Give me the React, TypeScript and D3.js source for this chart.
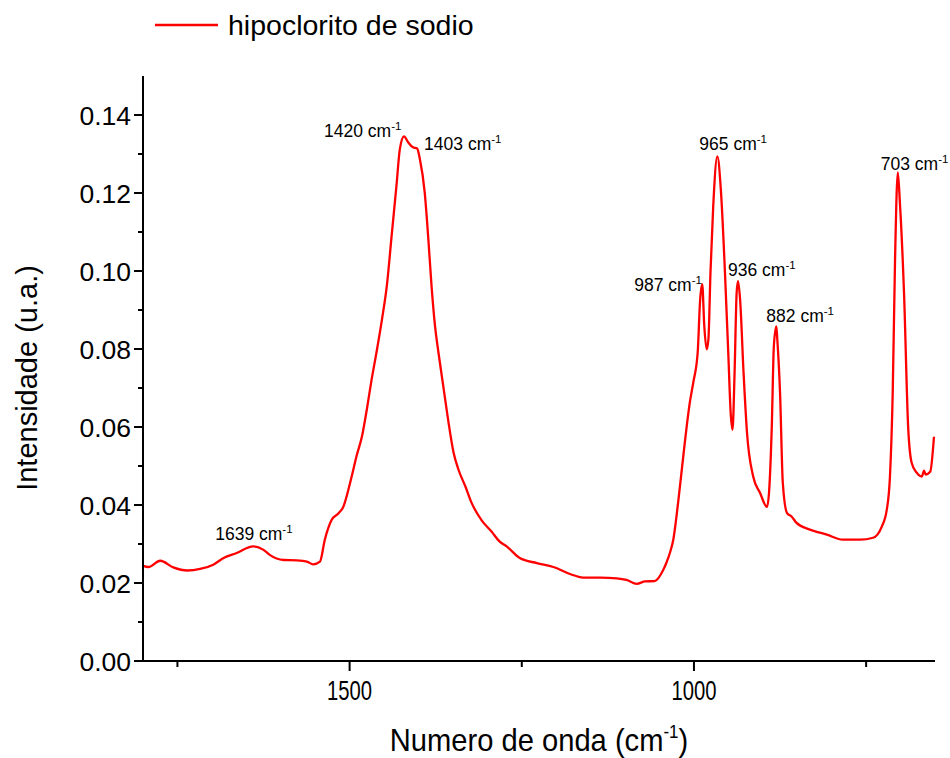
import React from "react";
import * as d3 from "d3";

// Spectrum (wavenumber in cm-1, intensity in u.a.)
const WAVENUMBER = [
  1800, 1792, 1775, 1756, 1736, 1717, 1698, 1683, 1664, 1640, 1625, 1616, 1596, 1577, 1562, 1553, 1543,
  1536, 1526, 1516, 1509, 1507, 1497, 1490, 1482, 1475, 1468, 1461, 1453, 1446, 1439, 1432, 1427, 1421,
  1415, 1408, 1402, 1398, 1391, 1386, 1381, 1376, 1371, 1364, 1357, 1349, 1342, 1332, 1323, 1308, 1294,
  1282, 1272, 1253, 1228, 1204, 1180, 1161, 1136, 1112, 1098, 1083, 1071, 1057, 1044.5, 1040, 1035, 1030,
  1023, 1015.5, 1010.5, 1006, 1001, 994.6, 991, 988, 985, 981.5, 979, 976, 972, 966, 961, 955, 950, 946.7,
  944, 941, 938, 936, 933, 928, 923, 914, 904, 894, 891, 887, 884, 880.4, 879, 875, 871, 865, 858, 851,
  831.5, 807, 783.6, 759, 740, 727.4, 720, 715.4, 711.4, 708, 704, 701, 695, 689, 684, 676.6, 669, 666,
  663.5, 657, 651.5,
];
const INTENSITY = [
  0.0244, 0.0241, 0.0257, 0.024, 0.0232, 0.0236, 0.0247, 0.0264, 0.0277, 0.0294, 0.0285, 0.0272, 0.0259,
  0.0258, 0.0255, 0.0248, 0.0255, 0.0311, 0.0362, 0.0379, 0.0396, 0.0406, 0.0473, 0.0525, 0.0576, 0.0645,
  0.0722, 0.0791, 0.0876, 0.0961, 0.109, 0.1218, 0.1313, 0.1345, 0.133, 0.1317, 0.1314, 0.1287, 0.1202,
  0.109, 0.0961, 0.0859, 0.0791, 0.0705, 0.0619, 0.0534, 0.0491, 0.0448, 0.0406, 0.036, 0.0332, 0.0306,
  0.0294, 0.0264, 0.0251, 0.0241, 0.0223, 0.0214, 0.0214, 0.0212, 0.0208, 0.0198, 0.0204, 0.0205, 0.0234,
  0.0252, 0.0277, 0.0311, 0.0406, 0.0525, 0.0602, 0.0663, 0.0714, 0.0791, 0.0927, 0.0966, 0.0859, 0.0799,
  0.0825, 0.0997, 0.1167, 0.1294, 0.121, 0.0997, 0.0782, 0.0637, 0.0593, 0.074, 0.0945, 0.0974, 0.0927,
  0.074, 0.0586, 0.0473, 0.0431, 0.0395, 0.0432, 0.0601, 0.0807, 0.0858, 0.0825, 0.0688, 0.0457, 0.038,
  0.037, 0.0354, 0.0337, 0.0324, 0.0311, 0.0311, 0.0316, 0.0344, 0.0388, 0.0473, 0.0688, 0.103, 0.1253,
  0.1176, 0.0945, 0.0601, 0.0509, 0.0483, 0.0473, 0.0488, 0.0478, 0.0485, 0.0575,
];

const SERIES_NAME = "hipoclorito de sodio";
const PEAK_LABELS = ["1639", "1420", "1403", "987", "965", "936", "882", "703"];
const PEAK_WN = [1640, 1421, 1402, 988, 966, 936, 880.4, 704];
// label offsets (px) relative to the peak point: start x, baseline y
const PEAK_DX = [-38, -80, 7, -68, -18, -10, -10, -17];
const PEAK_DY = [-6, 1, 1, 7, -6, -5, -4, -2];

const Y_MAJOR = [0, 0.02, 0.04, 0.06, 0.08, 0.1, 0.12, 0.14];
const Y_MINOR = [0.01, 0.03, 0.05, 0.07, 0.09, 0.11, 0.13];
const X_MAJOR = [1500, 1000];
const X_MINOR = [1750, 1250, 750];

const W = 950;
const H = 758;
const M = { left: 143, right: 935, top: 76, bottom: 661 };
const FONT = "'Liberation Sans', Arial, sans-serif";

export default function App() {
  const x = d3.scaleLinear().domain([1800, 650]).range([M.left, M.right]);
  const y = d3.scaleLinear().domain([0, 0.15]).range([M.bottom, M.top]);
  const data = WAVENUMBER.map((w, i) => ({ w, v: INTENSITY[i] }));
  const line = d3
    .line<{ w: number; v: number }>()
    .x((d) => x(d.w))
    .y((d) => y(d.v))
    .curve(d3.curveMonotoneX);

  const nearest = (wn: number) => {
    let best = data[0];
    for (const d of data) if (Math.abs(d.w - wn) < Math.abs(best.w - wn)) best = d;
    return best;
  };

  return (
    <svg
      width={W}
      height={H}
      style={{ position: "absolute", left: 0, top: 0, background: "#fff" }}
      fontFamily={FONT}
    >
      <rect width={W} height={H} fill="#fff" />
      {/* legend */}
      <line x1={155} x2={218} y1={25} y2={25} stroke="#ff0000" strokeWidth={2.5} />
      <text x={228} y={35} fontSize={28.5} fill="#000">
        {SERIES_NAME}
      </text>

      {/* data line */}
      <path d={line(data) || ""} fill="none" stroke="#ff0000" strokeWidth={2.3} strokeLinejoin="round" />

      {/* axes */}
      <line x1={M.left} x2={M.left} y1={M.top} y2={M.bottom + 1} stroke="#000" strokeWidth={2} />
      <line x1={M.left - 1} x2={M.right} y1={M.bottom} y2={M.bottom} stroke="#000" strokeWidth={2} />
      {Y_MAJOR.map((v) => (
        <g key={"ym" + v}>
          <line x1={M.left - 9} x2={M.left} y1={y(v)} y2={y(v)} stroke="#000" strokeWidth={2} />
          <text x={131} y={y(v)} dy="0.36em" textAnchor="end" fontSize={26.5} fill="#000">
            {v.toFixed(2)}
          </text>
        </g>
      ))}
      {Y_MINOR.map((v) => (
        <line key={"yn" + v} x1={M.left - 5} x2={M.left} y1={y(v)} y2={y(v)} stroke="#000" strokeWidth={2} />
      ))}
      {X_MAJOR.map((v) => (
        <g key={"xm" + v}>
          <line x1={x(v)} x2={x(v)} y1={M.bottom} y2={M.bottom + 10} stroke="#000" strokeWidth={2} />
          <g transform={`translate(${x(v)},700) scale(0.75,1)`}>
            <text x={0} y={0} textAnchor="middle" fontSize={27} fill="#000">
              {v}
            </text>
          </g>
        </g>
      ))}
      {X_MINOR.map((v) => (
        <line key={"xn" + v} x1={x(v)} x2={x(v)} y1={M.bottom} y2={M.bottom + 6} stroke="#000" strokeWidth={2} />
      ))}

      {/* axis titles */}
      <g transform={`translate(539,751) scale(0.94,1)`}>
        <text x={0} y={0} textAnchor="middle" fontSize={31} fill="#000">
          Numero de onda (cm
          <tspan fontSize={18} dy={-13}>
            -1
          </tspan>
          <tspan dy={13}>)</tspan>
        </text>
      </g>
      <text
        transform={`translate(37,378) rotate(-90)`}
        textAnchor="middle"
        fontSize={29}
        fill="#000"
      >
        Intensidade (u.a.)
      </text>

      {/* peak annotations */}
      {PEAK_LABELS.map((lab, i) => {
        const p = nearest(PEAK_WN[i]);
        return (
          <text key={lab} x={x(p.w) + PEAK_DX[i]} y={y(p.v) + PEAK_DY[i]} fontSize={17.5} fill="#000">
            {lab} cm
            <tspan fontSize={11.5} dy={-7}>
              -1
            </tspan>
          </text>
        );
      })}
    </svg>
  );
}
